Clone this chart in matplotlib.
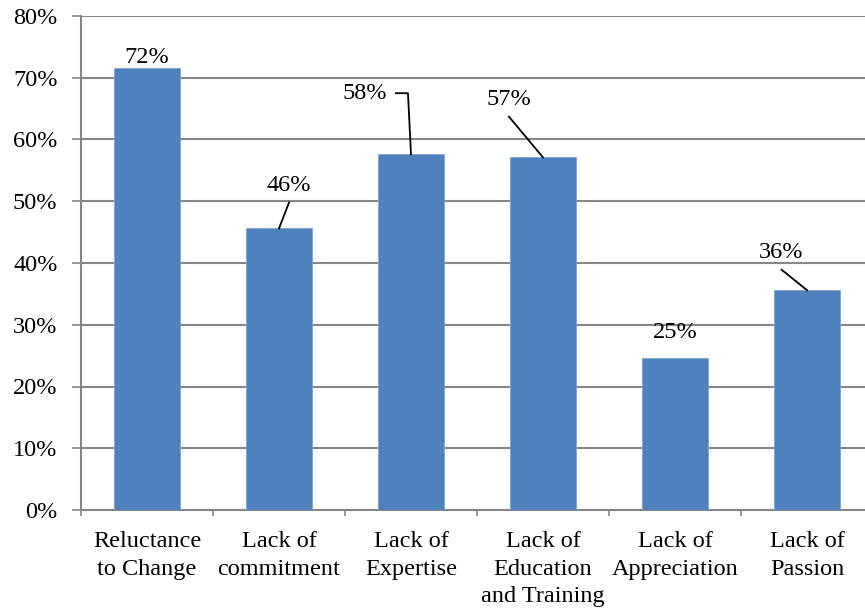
import numpy as np
import matplotlib.pyplot as plt

plt.rcParams["font.family"] = ["Liberation Serif", "DejaVu Serif"]

categories = [
    "Reluctance\nto Change",
    "Lack of\ncommitment",
    "Lack of\nExpertise",
    "Lack of\nEducation\nand Training",
    "Lack of\nAppreciation",
    "Lack of\nPassion",
]
shares = [0.716, 0.456, 0.576, 0.571, 0.246, 0.356]

# label text position for each bar, and the leader line points (None = no leader)
label_pos = [(0.0, 0.732), (1.076, 0.525), (1.649, 0.674), (2.742, 0.664), (4.0, 0.287), (4.803, 0.417)]
leaders = [
    None,
    [(1.076, 0.498)],
    [(1.886, 0.675), (1.977, 0.675)],
    [(2.742, 0.637)],
    None,
    [(4.808, 0.389)],
]

BLUE = "#4F81BD"
GRID = "#868686"
FS = 17.5

fig = plt.figure(figsize=(8.65, 6.11), dpi=100)
ax = fig.add_axes([81 / 865, 101 / 611, 792 / 865, 494 / 611])

x = np.arange(len(categories))
ax.bar(x, shares, 0.5, color=BLUE, edgecolor="#7FA2D0", linewidth=0.6, zorder=3)

ax.set_xlim(-0.5, len(categories) - 0.5)
ax.set_ylim(0, 0.8)
ax.set_yticks(np.arange(0, 0.81, 0.1))
ax.set_yticklabels([f"{int(round(v * 100))}%" for v in np.arange(0, 0.81, 0.1)])
ax.yaxis.grid(True, color=GRID, linewidth=1.5, zorder=0)
ax.set_axisbelow(True)

ax.set_xticks(x)
ax.set_xticklabels(categories, linespacing=1.42)
ax.set_xticks(np.arange(-0.5, len(categories)), minor=True)
ax.tick_params(axis="x", which="major", length=0, pad=15, labelsize=FS)
ax.tick_params(axis="x", which="minor", length=4.5, width=1.2, color=GRID, direction="out")
ax.tick_params(axis="y", length=6.5, width=1.2, color=GRID, pad=10.5, labelsize=FS)

for side in ["top", "right"]:
    ax.spines[side].set_visible(False)
for side in ["left", "bottom"]:
    ax.spines[side].set_color(GRID)
    ax.spines[side].set_linewidth(1.5)

for i, (val, (tx, ty), lead) in enumerate(zip(shares, label_pos, leaders)):
    ax.text(tx, ty, f"{round(val * 100)}%", ha="center", va="center", fontsize=FS, zorder=5)
    if lead is not None:
        pts = lead + [(x[i], val)]
        ax.plot([p[0] for p in pts], [p[1] for p in pts], color="black", linewidth=1.3,
                zorder=5, clip_on=False)

fig.savefig("out.png", dpi=100)
